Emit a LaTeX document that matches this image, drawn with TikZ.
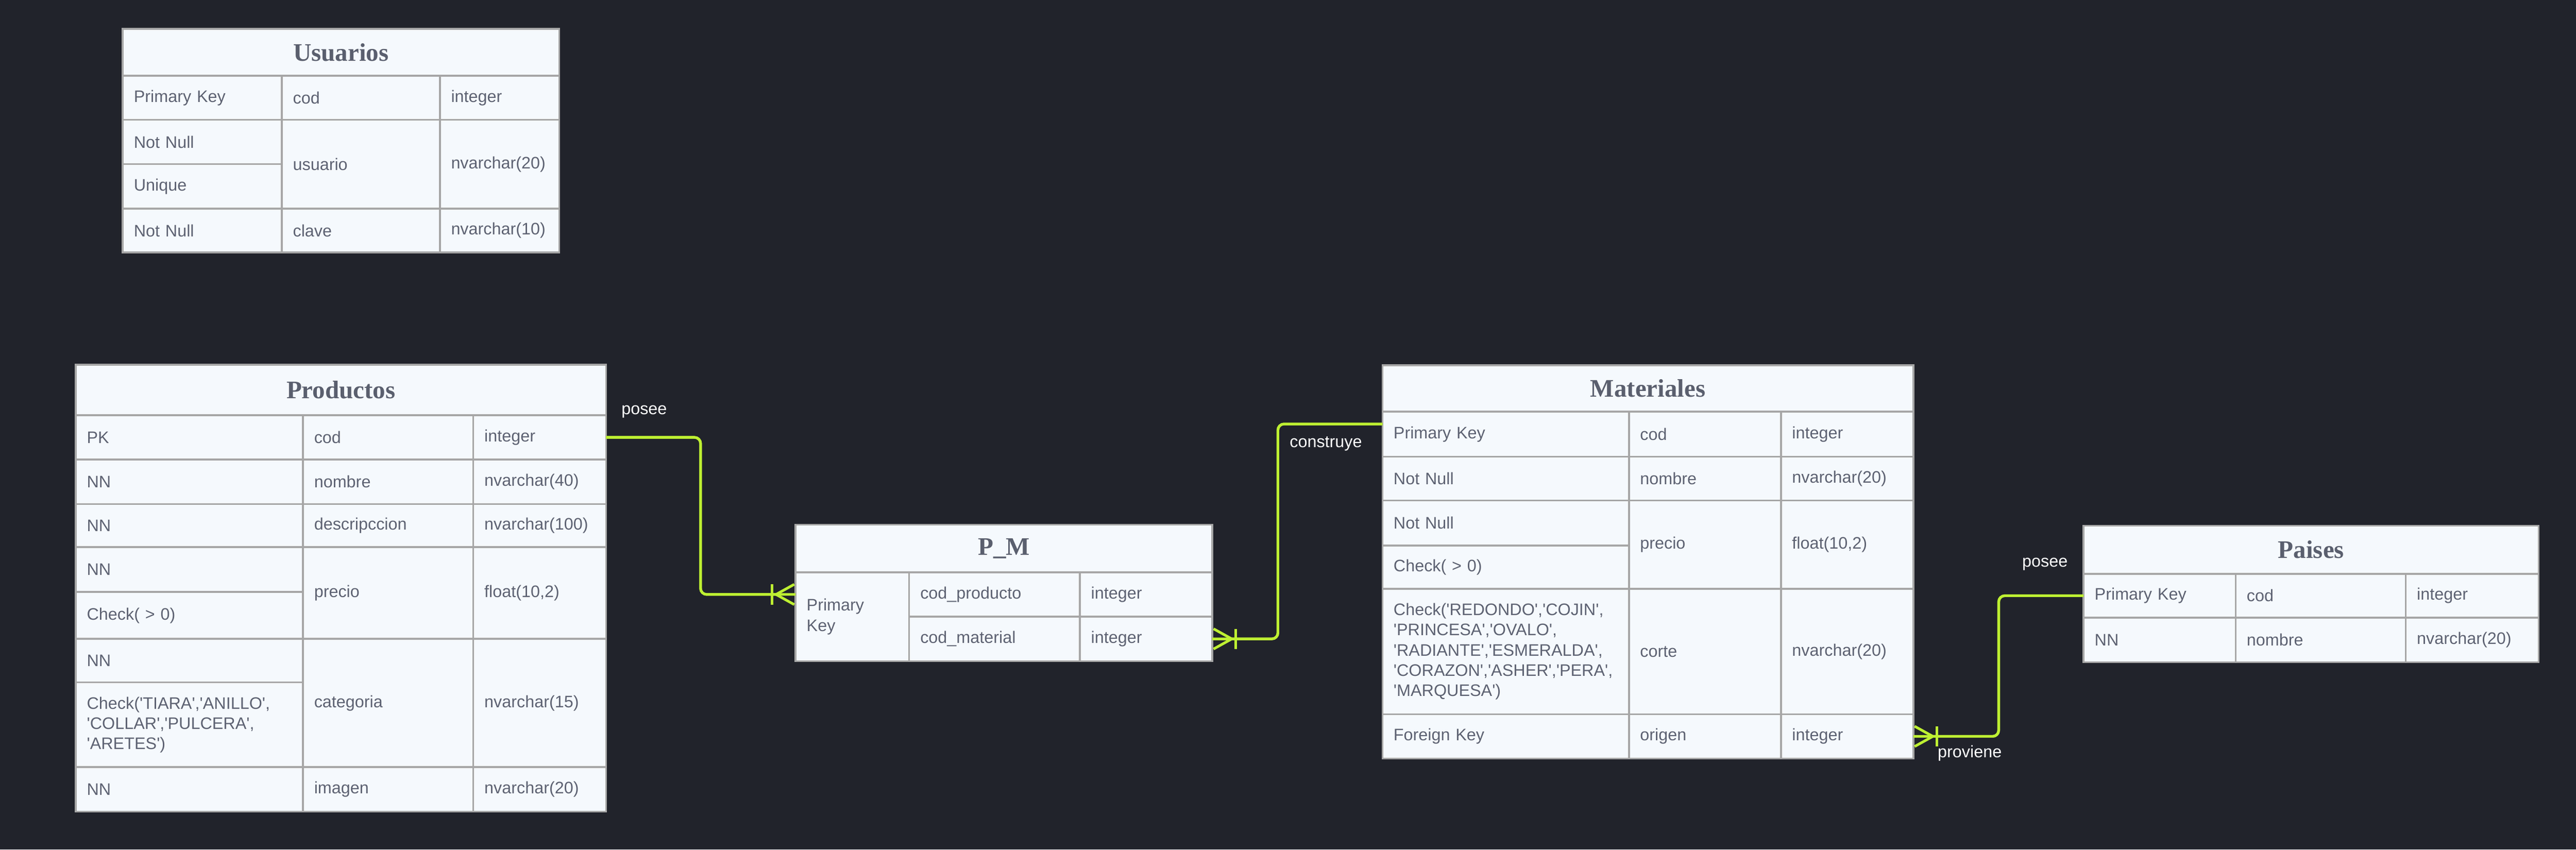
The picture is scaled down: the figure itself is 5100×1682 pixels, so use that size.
\documentclass[tikz,border=0pt]{standalone}
\usepackage{fontspec}
\usepackage{tikz}
\usetikzlibrary{arrows.meta}

\newfontfamily\cellsans{Liberation Sans}
\newfontfamily\headserif{Liberation Serif}
\newcommand\cellfont{\cellsans\fontsize{16.5pt}{20pt}\selectfont}
\newcommand\headfont{\headserif\bfseries\fontsize{25pt}{30pt}\selectfont}

\definecolor{bg}{HTML}{21232B}
\definecolor{cellfill}{HTML}{F5F9FD}
\definecolor{gridgray}{HTML}{A6A6A6}
\definecolor{textgray}{HTML}{5D6272}
\definecolor{headgray}{HTML}{5A5F6E}
\definecolor{limeline}{HTML}{BEF032}

\begin{document}
\begin{tikzpicture}[x=0.5pt, y=-0.5pt]
      \tikzstyle{cell}=[draw=gridgray, line width=1.8pt, fill=cellfill, anchor=north west, outer sep=0pt, inner xsep=11pt, inner ysep=0pt, align=left, text=textgray, font=\cellfont]
      \tikzstyle{head}=[cell, align=center, text=headgray, font=\headfont]
      \tikzstyle{rel}=[draw=limeline, line width=2.6pt, rounded corners=6pt, -{Bar[width=20pt, sep=0pt] Straight Barb[reversed, length=18pt, width=20pt]}, postaction={draw=limeline, -}]
      \tikzstyle{lbl}=[text=white, font=\cellfont, inner sep=0pt]
      \tikzset{sized/.style 2 args={minimum width=#1*0.5pt, text width=#1*0.5pt-22pt, minimum height=#2*0.5pt}}

      \fill[bg] (0,0) rectangle (5100,1682);

      % Usuarios
      \node[head, sized={864}{93}] (usu) at (243,57) {Usuarios};
      \node[cell, sized={315}{87}] (usu-c1) at (243,150) {Primary Key};
      \node[cell, sized={313}{87}] (usu-cod) at (558,150) {cod};
      \node[cell, sized={236}{87}] (usu-cod-t) at (871,150) {integer};
      \node[cell, sized={315}{88}] (usu-c2) at (243,237) {Not Null};
      \node[cell, sized={315}{88}] (usu-c3) at (243,325) {Unique};
      \node[cell, sized={313}{176}] (usu-usr) at (558,237) {usuario};
      \node[cell, sized={236}{176}] (usu-usr-t) at (871,237) {nvarchar(20)};
      \node[cell, sized={315}{87}] (usu-c4) at (243,413) {Not Null};
      \node[cell, sized={313}{87}] (usu-clv) at (558,413) {clave};
      \node[cell, sized={236}{87}] (usu-clv-t) at (871,413) {nvarchar(10)};

      % Productos
      \node[head, sized={1050}{100}] (prod) at (150,722) {Productos};
      \node[cell, sized={450}{88}] (prod-c1) at (150,822) {PK};
      \node[cell, sized={337}{88}] (prod-cod) at (600,822) {cod};
      \node[cell, sized={263}{88}] (prod-cod-t) at (937,822) {integer};
      \node[cell, sized={450}{88}] (prod-c2) at (150,910) {NN};
      \node[cell, sized={337}{88}] (prod-nom) at (600,910) {nombre};
      \node[cell, sized={263}{88}] (prod-nom-t) at (937,910) {nvarchar(40)};
      \node[cell, sized={450}{85}] (prod-c3) at (150,998) {NN};
      \node[cell, sized={337}{85}] (prod-des) at (600,998) {descripccion};
      \node[cell, sized={263}{85}] (prod-des-t) at (937,998) {nvarchar(100)};
      \node[cell, sized={450}{89}] (prod-c4) at (150,1083) {NN};
      \node[cell, sized={450}{93}] (prod-c5) at (150,1172) {Check( > 0)};
      \node[cell, sized={337}{182}] (prod-pre) at (600,1083) {precio};
      \node[cell, sized={263}{182}] (prod-pre-t) at (937,1083) {float(10,2)};
      \node[cell, sized={450}{86}] (prod-c6) at (150,1265) {NN};
      \node[cell, sized={450}{168}] (prod-c7) at (150,1351) {Check('TIARA','ANILLO',\\'COLLAR','PULCERA',\\'ARETES')};
      \node[cell, sized={337}{254}] (prod-cat) at (600,1265) {categoria};
      \node[cell, sized={263}{254}] (prod-cat-t) at (937,1265) {nvarchar(15)};
      \node[cell, sized={450}{88}] (prod-c8) at (150,1519) {NN};
      \node[cell, sized={337}{88}] (prod-img) at (600,1519) {imagen};
      \node[cell, sized={263}{88}] (prod-img-t) at (937,1519) {nvarchar(20)};

      % P_M
      \node[head, sized={825}{94}] (pm) at (1575,1039) {P\_M};
      \node[cell, sized={225}{176}] (pm-c1) at (1575,1133) {Primary\\Key};
      \node[cell, sized={338}{88}] (pm-cp) at (1800,1133) {cod\_producto};
      \node[cell, sized={262}{88}] (pm-cp-t) at (2138,1133) {integer};
      \node[cell, sized={338}{88}] (pm-cm) at (1800,1221) {cod\_material};
      \node[cell, sized={262}{88}] (pm-cm-t) at (2138,1221) {integer};

      % Materiales
      \node[head, sized={1051}{92}] (mat) at (2737,723) {Materiales};
      \node[cell, sized={488}{89}] (mat-c1) at (2737,815) {Primary Key};
      \node[cell, sized={301}{89}] (mat-cod) at (3225,815) {cod};
      \node[cell, sized={262}{89}] (mat-cod-t) at (3526,815) {integer};
      \node[cell, sized={488}{87}] (mat-c2) at (2737,904) {Not Null};
      \node[cell, sized={301}{87}] (mat-nom) at (3225,904) {nombre};
      \node[cell, sized={262}{87}] (mat-nom-t) at (3526,904) {nvarchar(20)};
      \node[cell, sized={488}{89}] (mat-c3) at (2737,991) {Not Null};
      \node[cell, sized={488}{86}] (mat-c4) at (2737,1080) {Check( > 0)};
      \node[cell, sized={301}{175}] (mat-pre) at (3225,991) {precio};
      \node[cell, sized={262}{175}] (mat-pre-t) at (3526,991) {float(10,2)};
      \node[cell, sized={488}{248}] (mat-c5) at (2737,1166) {Check('REDONDO','COJIN',\\'PRINCESA','OVALO',\\'RADIANTE','ESMERALDA',\\'CORAZON','ASHER','PERA',\\'MARQUESA')};
      \node[cell, sized={301}{248}] (mat-cor) at (3225,1166) {corte};
      \node[cell, sized={262}{248}] (mat-cor-t) at (3526,1166) {nvarchar(20)};
      \node[cell, sized={488}{88}] (mat-c6) at (2737,1414) {Foreign Key};
      \node[cell, sized={301}{88}] (mat-org) at (3225,1414) {origen};
      \node[cell, sized={262}{88}] (mat-org-t) at (3526,1414) {integer};

      % Paises
      \node[head, sized={901}{95}] (pai) at (4125,1041) {Paises};
      \node[cell, sized={301}{87}] (pai-c1) at (4125,1136) {Primary Key};
      \node[cell, sized={337}{87}] (pai-cod) at (4426,1136) {cod};
      \node[cell, sized={263}{87}] (pai-cod-t) at (4763,1136) {integer};
      \node[cell, sized={301}{88}] (pai-c2) at (4125,1223) {NN};
      \node[cell, sized={337}{88}] (pai-nom) at (4426,1223) {nombre};
      \node[cell, sized={263}{88}] (pai-nom-t) at (4763,1223) {nvarchar(20)};

      % relaciones
      \draw[rel] (prod-cod-t.east) -- ++(187,0) |- (pm-c1.west |- pm-cp.west);
      \draw[rel] ([yshift=10pt]mat-c1.west) -- ++(-207,0) |- (pm-cm-t.east);
      \draw[rel] (pai-c1.west) -- ++(-168,0) |- (mat-org-t.east);

      \node[lbl, anchor=west] (posee-a) at (1230,815) {posee};
      \node[lbl, anchor=west] (construye) at (2553,879) {construye};
      \node[lbl, anchor=east] (posee-b) at (4094,1117) {posee};
      \node[lbl, anchor=west] (proviene) at (3836,1491) {proviene};
  \end{tikzpicture}
\end{document}
